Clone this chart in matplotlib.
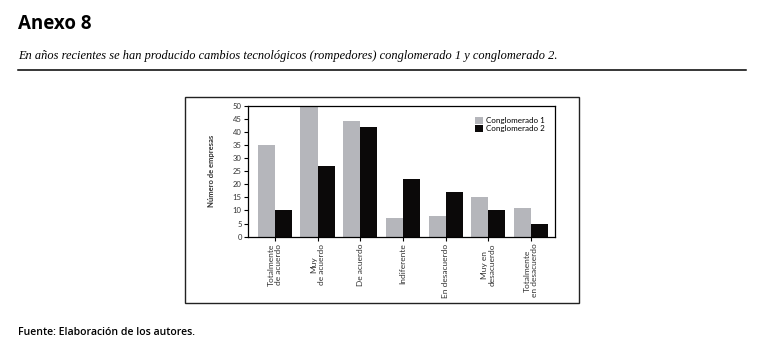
import matplotlib
matplotlib.use("Agg")
import matplotlib.pyplot as plt
import numpy as np
from matplotlib.patches import Rectangle

# values
categories = ["Totalmente\nde acuerdo", "Muy\nde acuerdo", "De acuerdo", "Indiferente",
              "En desacuerdo", "Muy en\ndesacuerdo", "Totalmente\nen desacuerdo"]
conglomerado_1 = [35, 50, 44, 7, 8, 15, 11]
conglomerado_2 = [10, 27, 42, 22, 17, 10, 5]
series_labels = ["Conglomerado 1", "Conglomerado 2"]
y_ticks = [0, 5, 10, 15, 20, 25, 30, 35, 40, 45, 50]

GRAY = "#b5b6bb"
BLACK = "#0b0909"
SANS = ["Open Sans", "DejaVu Sans"]
CHART_FONT = ["Lato", "DejaVu Sans"]

fig = plt.figure(figsize=(7.63, 3.49), dpi=100)

# page text around the chart
fig.text(0.0236, 0.93, "Anexo 8", fontsize=13.5, fontweight="bold", family=SANS,
         ha="left", va="center")
fig.text(0.0236, 0.84, "En años recientes se han producido cambios tecnológicos (rompedores) "
         "conglomerado 1 y conglomerado 2.", fontsize=8.9, style="italic",
         family=["Liberation Serif", "DejaVu Serif"], ha="left", va="center")
fig.add_artist(plt.Line2D([0.0236, 0.978], [0.7994, 0.7994], color="black", linewidth=1.1))
fig.text(0.0236, 0.047, "Fuente: Elaboración de los autores.", fontsize=7.6,
         fontweight="semibold", family=SANS, ha="left", va="center")

# frame around the chart
fig.add_artist(Rectangle((0.2425, 0.1318), 0.5157, 0.5903, transform=fig.transFigure,
                         fill=False, edgecolor="#222222", linewidth=1.0))

ax = fig.add_axes([0.325, 0.3218, 0.4024, 0.3753])
x = np.arange(len(categories))
width = 0.4
ax.bar(x - width / 2, conglomerado_1, width, color=GRAY, label=series_labels[0])
ax.bar(x + width / 2, conglomerado_2, width, color=BLACK, label=series_labels[1])

ax.set_xlim(-0.63, 6.56)
ax.set_ylim(0, 50)
ax.set_yticks(y_ticks)
ax.set_xticks(x)
ax.set_xticklabels(categories, rotation=90, fontsize=6, family=CHART_FONT,
                   color="#333333", linespacing=1.0, ha="center", va="top",
                   multialignment="center")
ax.tick_params(axis="y", labelsize=5.5, length=3, width=0.8, pad=1.5, labelcolor="#333333")
ax.tick_params(axis="x", length=3, width=0.8, pad=2)
for lbl in ax.get_yticklabels():
    lbl.set_family(CHART_FONT)
for side in ax.spines.values():
    side.set_linewidth(0.9)
ax.set_ylabel("Número de empresas", fontsize=5.5, family=CHART_FONT,
              fontweight="bold", color="#333333", labelpad=13)

ax.legend(loc="upper right", bbox_to_anchor=(0.99, 0.97), frameon=False,
          handlelength=1.0, handleheight=0.9, labelspacing=0.15, handletextpad=0.4,
          prop={"family": CHART_FONT, "size": 5.8})

fig.savefig("out.png", dpi=100)
plt.close(fig)
